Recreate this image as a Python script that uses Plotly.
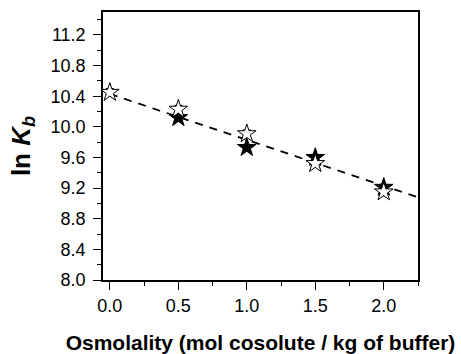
import numpy as np
import plotly.graph_objects as go

# Binding constant vs. osmolality
osm_open = [0.0, 0.5, 1.0, 1.5, 2.0]
lnkb_open = [10.45, 10.23, 9.91, 9.52, 9.15]
err_open = [0.05, 0.05, 0.05, 0.05, 0.05]

osm_filled = [0.5, 1.0, 1.5, 2.0]
lnkb_filled = [10.12, 9.73, 9.60, 9.21]
err_filled = [0.04, 0.04, 0.04, 0.04]

# Linear fit through the data
fit_intercept = 10.43
fit_slope = -0.60
fit_x = np.array([0.0, 2.25])
fit_y = fit_intercept + fit_slope * fit_x

x_ticks = [0.0, 0.5, 1.0, 1.5, 2.0]
y_ticks = [8.0, 8.4, 8.8, 9.2, 9.6, 10.0, 10.4, 10.8, 11.2]

FONT = "Arial, Liberation Sans, sans-serif"

fig = go.Figure()
fig.add_trace(go.Scatter(
    x=fit_x, y=fit_y, mode="lines",
    line=dict(color="black", width=1.8, dash="8px,7px"),
    showlegend=False, hoverinfo="skip"))
fig.add_trace(go.Scatter(
    x=osm_filled, y=lnkb_filled, mode="markers",
    marker=dict(symbol="star", size=14, color="black",
                line=dict(color="black", width=1)),
    error_y=dict(type="data", array=err_filled, color="black",
                 thickness=1, width=4),
    showlegend=False))
fig.add_trace(go.Scatter(
    x=osm_open, y=lnkb_open, mode="markers",
    marker=dict(symbol="star", size=14, color="white",
                line=dict(color="black", width=1)),
    error_y=dict(type="data", array=err_open, color="black",
                 thickness=1, width=4),
    showlegend=False))

axis_common = dict(
    showgrid=False, zeroline=False, automargin=False,
    showline=True, linecolor="black", linewidth=1.5, mirror=True,
    ticks="outside", ticklen=8, tickwidth=1.2, tickcolor="black",
    tickfont=dict(family=FONT, size=18, color="black"),
)

fig.update_xaxes(
    range=[-0.05, 2.25], tickvals=x_ticks,
    ticktext=[f"{v:.1f}" for v in x_ticks],
    minor=dict(dtick=0.25, tick0=0, ticks="outside", ticklen=4,
               tickwidth=1.2, tickcolor="black"),
    ticklabelstandoff=1,
    title=dict(text="<b>Osmolality (mol cosolute / kg of buffer)</b>",
               font=dict(family=FONT, size=21, color="black"), standoff=20),
    **axis_common)
fig.update_yaxes(
    range=[8.0, 11.5], tickvals=y_ticks,
    ticktext=[f"{v:.1f}" for v in y_ticks],
    minor=dict(dtick=0.2, tick0=8.0, ticks="outside", ticklen=4,
               tickwidth=1.2, tickcolor="black"),
    ticklabelstandoff=4,
    title=dict(text="<b>ln <i>K</i><sub><i>b</i></sub></b>",
               font=dict(family=FONT, size=26, color="black"), standoff=13),
    **axis_common)

fig.update_layout(
    width=461, height=354,
    margin=dict(l=103, r=43, t=12, b=74),
    paper_bgcolor="white", plot_bgcolor="white",
)

fig.write_html("out.html")
